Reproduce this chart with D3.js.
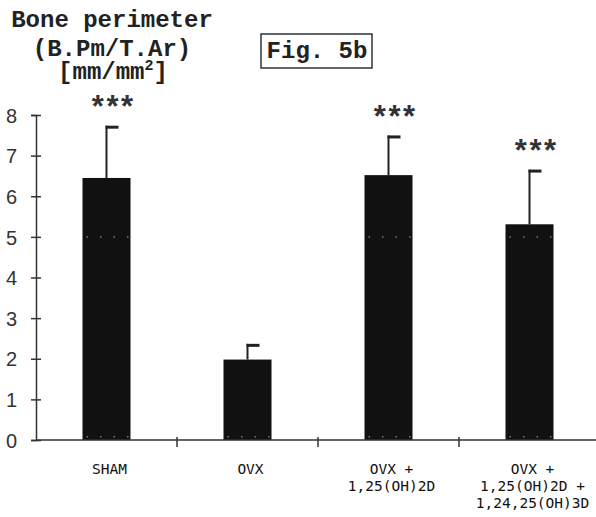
<!DOCTYPE html>
<html lang="en">
  <head>
    <title>Fig. 5b</title>
    <meta charset="utf-8">
    <style>
      body { margin: 0; background: #fff; }
      svg { display: block; }
    </style>
  </head>
  <body>
<svg width="596" height="517"></svg>
<script src="https://d3js.org/d3.v7.min.js"></script>
<script>

// data
var groups = ["SHAM", "OVX", "OVX+D2", "OVX+D2+D3"];
var groupLabels = [["SHAM"], ["OVX"], ["OVX +", "1,25(OH)2D"], ["OVX +", "1,25(OH)2D +", "1,24,25(OH)3D"]];
var means = [6.45, 1.98, 6.52, 5.31];
var errTops = [7.70, 2.33, 7.46, 6.62];
var stars = ["***", "", "***", "***"];
var yTicks = [0, 1, 2, 3, 4, 5, 6, 7, 8];
var titleLines = ["Bone perimeter", "(B.Pm/T.Ar)"];

var svg = d3.select("svg"),
    plotLeft = 36, plotRight = 600, plotTop = 115, plotBottom = 440;

var x = d3.scaleBand().domain(groups).range([plotLeft, plotRight]).padding(0);
var y = d3.scaleLinear().domain([0, 8]).range([plotBottom, plotTop]);
var barW = 48;

var mono = "'Liberation Mono', 'Courier New', monospace";

// title
svg.selectAll(".title").data(titleLines).enter().append("text")
    .attr("x", 112).attr("y", function(d, i) { return i == 0 ? 27 : 56; })
    .attr("text-anchor", "middle")
    .style("font-family", mono).style("font-weight", "bold").style("font-size", "24px")
    .attr("fill", "#222")
    .text(function(d) { return d; });

var unit = svg.append("text")
    .attr("x", 113).attr("y", 79)
    .attr("text-anchor", "middle")
    .style("font-family", mono).style("font-weight", "bold").style("font-size", "24px")
    .attr("fill", "#222");
unit.append("tspan").text("[mm/mm");
unit.append("tspan").attr("dy", -9).style("font-size", "15px").text("2");
unit.append("tspan").attr("dy", 9).text("]");

// Fig. 5b box
svg.append("rect").attr("x", 261).attr("y", 34).attr("width", 111).attr("height", 34)
    .attr("fill", "none").attr("stroke", "#333").attr("stroke-width", 1.5);
svg.append("text").attr("x", 317).attr("y", 58).attr("text-anchor", "middle")
    .style("font-family", mono).style("font-weight", "bold").style("font-size", "24px")
    .attr("fill", "#222").text("Fig. 5b");

// bars
var bars = svg.selectAll(".bar").data(groups).enter().append("g");

bars.append("rect")
    .attr("x", function(d) { return x(d) + x.bandwidth() / 2 - barW / 2; })
    .attr("y", function(d, i) { return y(means[i]); })
    .attr("width", barW)
    .attr("height", function(d, i) { return y(0) - y(means[i]); })
    .attr("fill", "#111");

// faint dots seen inside the bars
[5, 0.08].forEach(function(v) {
  bars.filter(function(d, i) { return means[i] > v; }).append("line")
      .attr("x1", function(d) { return x(d) + x.bandwidth() / 2 - barW / 2 + 4; })
      .attr("x2", function(d) { return x(d) + x.bandwidth() / 2 + barW / 2; })
      .attr("y1", y(v)).attr("y2", y(v))
      .attr("stroke", "#777").attr("stroke-width", 1.5)
      .attr("stroke-dasharray", "1.5,12");
});

// error bars (upper only, cap to the right)
bars.append("line")
    .attr("x1", function(d) { return x(d) + x.bandwidth() / 2; })
    .attr("x2", function(d) { return x(d) + x.bandwidth() / 2; })
    .attr("y1", function(d, i) { return y(means[i]); })
    .attr("y2", function(d, i) { return y(errTops[i]) - 1.5; })
    .attr("stroke", "#222").attr("stroke-width", 2);
bars.append("line")
    .attr("x1", function(d) { return x(d) + x.bandwidth() / 2 - 1; })
    .attr("x2", function(d) { return x(d) + x.bandwidth() / 2 + 12; })
    .attr("y1", function(d, i) { return y(errTops[i]); })
    .attr("y2", function(d, i) { return y(errTops[i]); })
    .attr("stroke", "#222").attr("stroke-width", 3);

// significance stars
bars.append("text")
    .attr("x", function(d) { return x(d) + x.bandwidth() / 2 + 4; })
    .attr("y", function(d, i) { return y(errTops[i]) - 9; })
    .attr("text-anchor", "middle")
    .style("font-family", mono).style("font-weight", "bold").style("font-size", "31px")
    .style("letter-spacing", "-4px")
    .attr("fill", "#333")
    .text(function(d, i) { return stars[i]; });

// y axis
var yAxis = svg.append("g").attr("transform", "translate(" + plotLeft + ",0)")
    .call(d3.axisLeft(y).tickValues(yTicks).tickSizeOuter(0).tickSize(5).tickPadding(14));
yAxis.select(".domain").attr("stroke", "#333").attr("stroke-width", 1.5);
yAxis.selectAll(".tick line").attr("x1", 5).attr("stroke", "#333").attr("stroke-width", 1.5);
yAxis.selectAll(".tick text")
    .style("font-family", "'Liberation Sans', Arial, sans-serif").style("font-size", "20px")
    .attr("fill", "#333").attr("dy", "0.36em");

// x axis
svg.append("line").attr("x1", plotLeft).attr("x2", 596).attr("y1", plotBottom).attr("y2", plotBottom)
    .attr("stroke", "#333").attr("stroke-width", 1.5);
svg.selectAll(".xtick").data(groups.slice(1)).enter().append("line")
    .attr("x1", function(d) { return x(d); }).attr("x2", function(d) { return x(d); })
    .attr("y1", plotBottom - 3).attr("y2", plotBottom + 7)
    .attr("stroke", "#333").attr("stroke-width", 1.5);

var labels = svg.selectAll(".xlab").data(groups).enter().append("text")
    .attr("text-anchor", "middle")
    .style("font-family", "'DejaVu Sans Mono', monospace").style("font-size", "14.5px")
    .attr("fill", "#111");
labels.selectAll("tspan").data(function(d, i) { return groupLabels[i].map(function(t) { return {g: d, t: t}; }); })
    .enter().append("tspan")
    .attr("x", function(d) { return x(d.g) + x.bandwidth() / 2 + 3; })
    .attr("y", function(d, j) { return 474 + j * 17; })
    .text(function(d) { return d.t; });

</script>
  </body>
</html>
